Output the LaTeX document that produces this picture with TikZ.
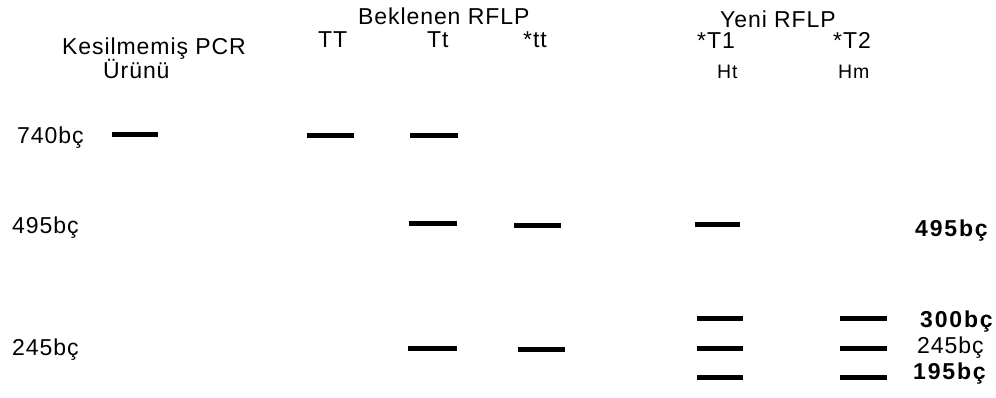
\documentclass[tikz,border=0pt]{standalone}
\usepackage{fontspec}
\setmainfont{Liberation Sans}
\newfontfamily\spaced[LetterSpace=4]{Liberation Sans}
\newfontfamily\wspaced[LetterSpace=8]{Liberation Sans}
\begin{document}
\begin{tikzpicture}[x=1pt,y=-1pt,
  lbl/.style={anchor=base west,inner sep=0pt,font=\spaced\fontsize{23}{25}\selectfont},
  small/.style={anchor=base west,inner sep=0pt,font=\spaced\fontsize{19.5}{21}\selectfont},
  blbl/.style={anchor=base west,inner sep=0pt,font=\wspaced\fontsize{23}{25}\selectfont\bfseries},
  band/.style={line width=5pt}]
\useasboundingbox (0,0) rectangle (996,397);
% headers
\node[lbl] (bek) at (358,24) {Beklenen RFLP};
\node[lbl] (yeni) at (720,27) {Yeni RFLP};
\node[lbl] (kes) at (62,54) {Kesilmemiş PCR};
\node[lbl] (urun) at (103,78) {Ürünü};
\node[lbl] (TT) at (318,47) {TT};
\node[lbl] (Tt) at (427,47) {Tt};
\node[lbl] (tt) at (523,47) {*tt};
\node[lbl] (T1) at (697,48) {*T1};
\node[lbl] (T2) at (833,48) {*T2};
\node[small] (Ht) at (717,78) {Ht};
\node[small] (Hm) at (838,78) {Hm};
% left sizes
\node[lbl] (l740) at (17,143) {740bç};
\node[lbl] (l495) at (12,233) {495bç};
\node[lbl] (l245) at (12,355) {245bç};
% right sizes
\node[blbl] (r495) at (915,236) {495bç};
\node[blbl] (r300) at (920,327) {300bç};
\node[lbl] (r245) at (917,353) {245bç};
\node[blbl] (r195) at (913,379) {195bç};
% bands
\draw[band] (112,134) -- (158,134);
\draw[band] (307,135) -- (354,135);
\draw[band] (410,135) -- (458,135);
\draw[band] (409,223) -- (457,223);
\draw[band] (408,348) -- (457,348);
\draw[band] (514,225) -- (561,225);
\draw[band] (518,349) -- (565,349);
\draw[band] (695,224) -- (740,224);
\draw[band] (697,318) -- (743,318);
\draw[band] (697,348) -- (743,348);
\draw[band] (697,377) -- (743,377);
\draw[band] (840,318) -- (887,318);
\draw[band] (840,348) -- (887,348);
\draw[band] (840,377) -- (887,377);
\end{tikzpicture}
\end{document}
